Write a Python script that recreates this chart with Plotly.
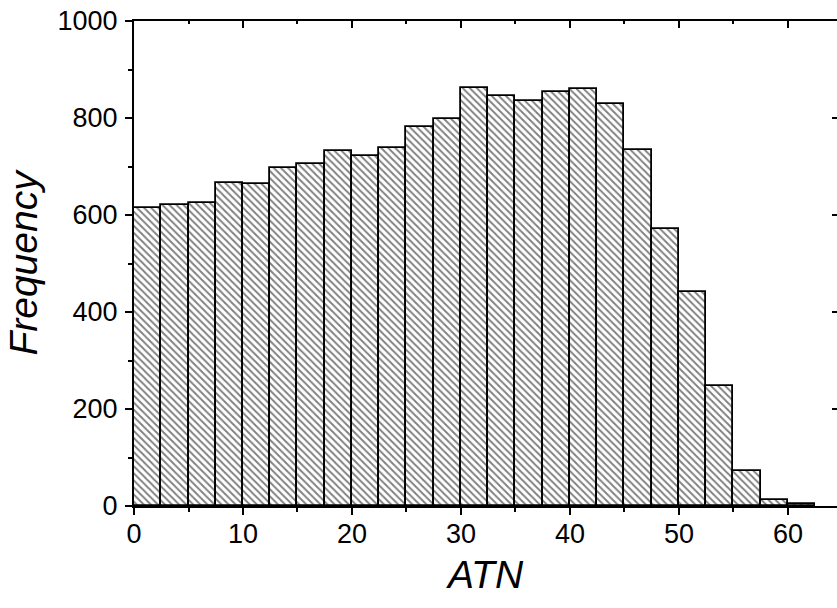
import plotly.graph_objects as go

# Histogram of ATN: left edges of the 2.5-wide bins and their counts
bin_left = [0, 2.5, 5, 7.5, 10, 12.5, 15, 17.5, 20, 22.5, 25, 27.5, 30,
            32.5, 35, 37.5, 40, 42.5, 45, 47.5, 50, 52.5, 55, 57.5, 60]
counts = [614, 621, 624, 665, 663, 697, 706, 731, 722, 739, 781, 797, 862,
          846, 835, 853, 860, 829, 735, 572, 442, 247, 72, 12, 4]
bin_width = 2.5

x_ticks = [0, 10, 20, 30, 40, 50, 60]
y_ticks = [0, 200, 400, 600, 800, 1000]

FONT = "Liberation Sans, Arial, sans-serif"
centers = [b + bin_width / 2 for b in bin_left]

fig = go.Figure()
fig.add_trace(go.Bar(
    x=centers, y=counts, width=bin_width,
    marker=dict(
        color="white",
        line=dict(color="black", width=1.8),
        pattern=dict(shape="\\", fgcolor="black", bgcolor="white",
                     size=5, solidity=0.38),
    ),
    showlegend=False,
))

x_range = [0, 64.5]
y_range = [0, 1000]

fig.update_layout(
    width=837, height=608,
    margin=dict(l=134, r=0, t=21, b=102),
    paper_bgcolor="white", plot_bgcolor="white",
    bargap=0,
    font=dict(family=FONT, color="black", size=27),
    xaxis=dict(
        range=x_range, tickvals=x_ticks, ticks="outside", ticklen=7,
        tickwidth=1.5, tickcolor="black", showline=True, linewidth=2,
        linecolor="black", showgrid=False, zeroline=False,
        minor=dict(dtick=5, tick0=0, ticks="outside", ticklen=4,
                   tickwidth=1.5, tickcolor="black"),
        tickfont=dict(size=27), ticklabelstandoff=-4,
        title=dict(text="<i>ATN</i>", font=dict(size=39), standoff=12),
    ),
    xaxis2=dict(
        range=x_range, overlaying="x", side="top", matches="x",
        tickvals=x_ticks, ticks="inside", ticklen=7, tickwidth=1.5,
        tickcolor="black", showline=True, linewidth=2, linecolor="black",
        showticklabels=False, showgrid=False, zeroline=False,
        minor=dict(dtick=5, tick0=0, ticks="inside", ticklen=3,
                   tickwidth=1.5, tickcolor="black"),
    ),
    yaxis=dict(
        range=y_range, tickvals=y_ticks, ticks="outside", ticklen=7,
        tickwidth=1.5, tickcolor="black", showline=True, linewidth=2,
        linecolor="black", showgrid=False, zeroline=False,
        minor=dict(dtick=100, tick0=0, ticks="outside", ticklen=4,
                   tickwidth=1.5, tickcolor="black"),
        tickfont=dict(size=27), ticklabelstandoff=2,
        title=dict(text="<i>Frequency</i>", font=dict(size=39), standoff=8),
    ),
    yaxis2=dict(
        range=y_range, overlaying="y", side="right", anchor="x",
        tickvals=y_ticks, ticks="inside", ticklen=5, tickwidth=1.5,
        tickcolor="black", showline=False, showticklabels=False,
        showgrid=False, zeroline=False,
    ),
)

# invisible trace so the top and right axes are drawn
fig.add_trace(go.Scatter(x=[None], y=[None], xaxis="x2", yaxis="y2",
                         showlegend=False, hoverinfo="skip"))

fig.write_html("out.html")
